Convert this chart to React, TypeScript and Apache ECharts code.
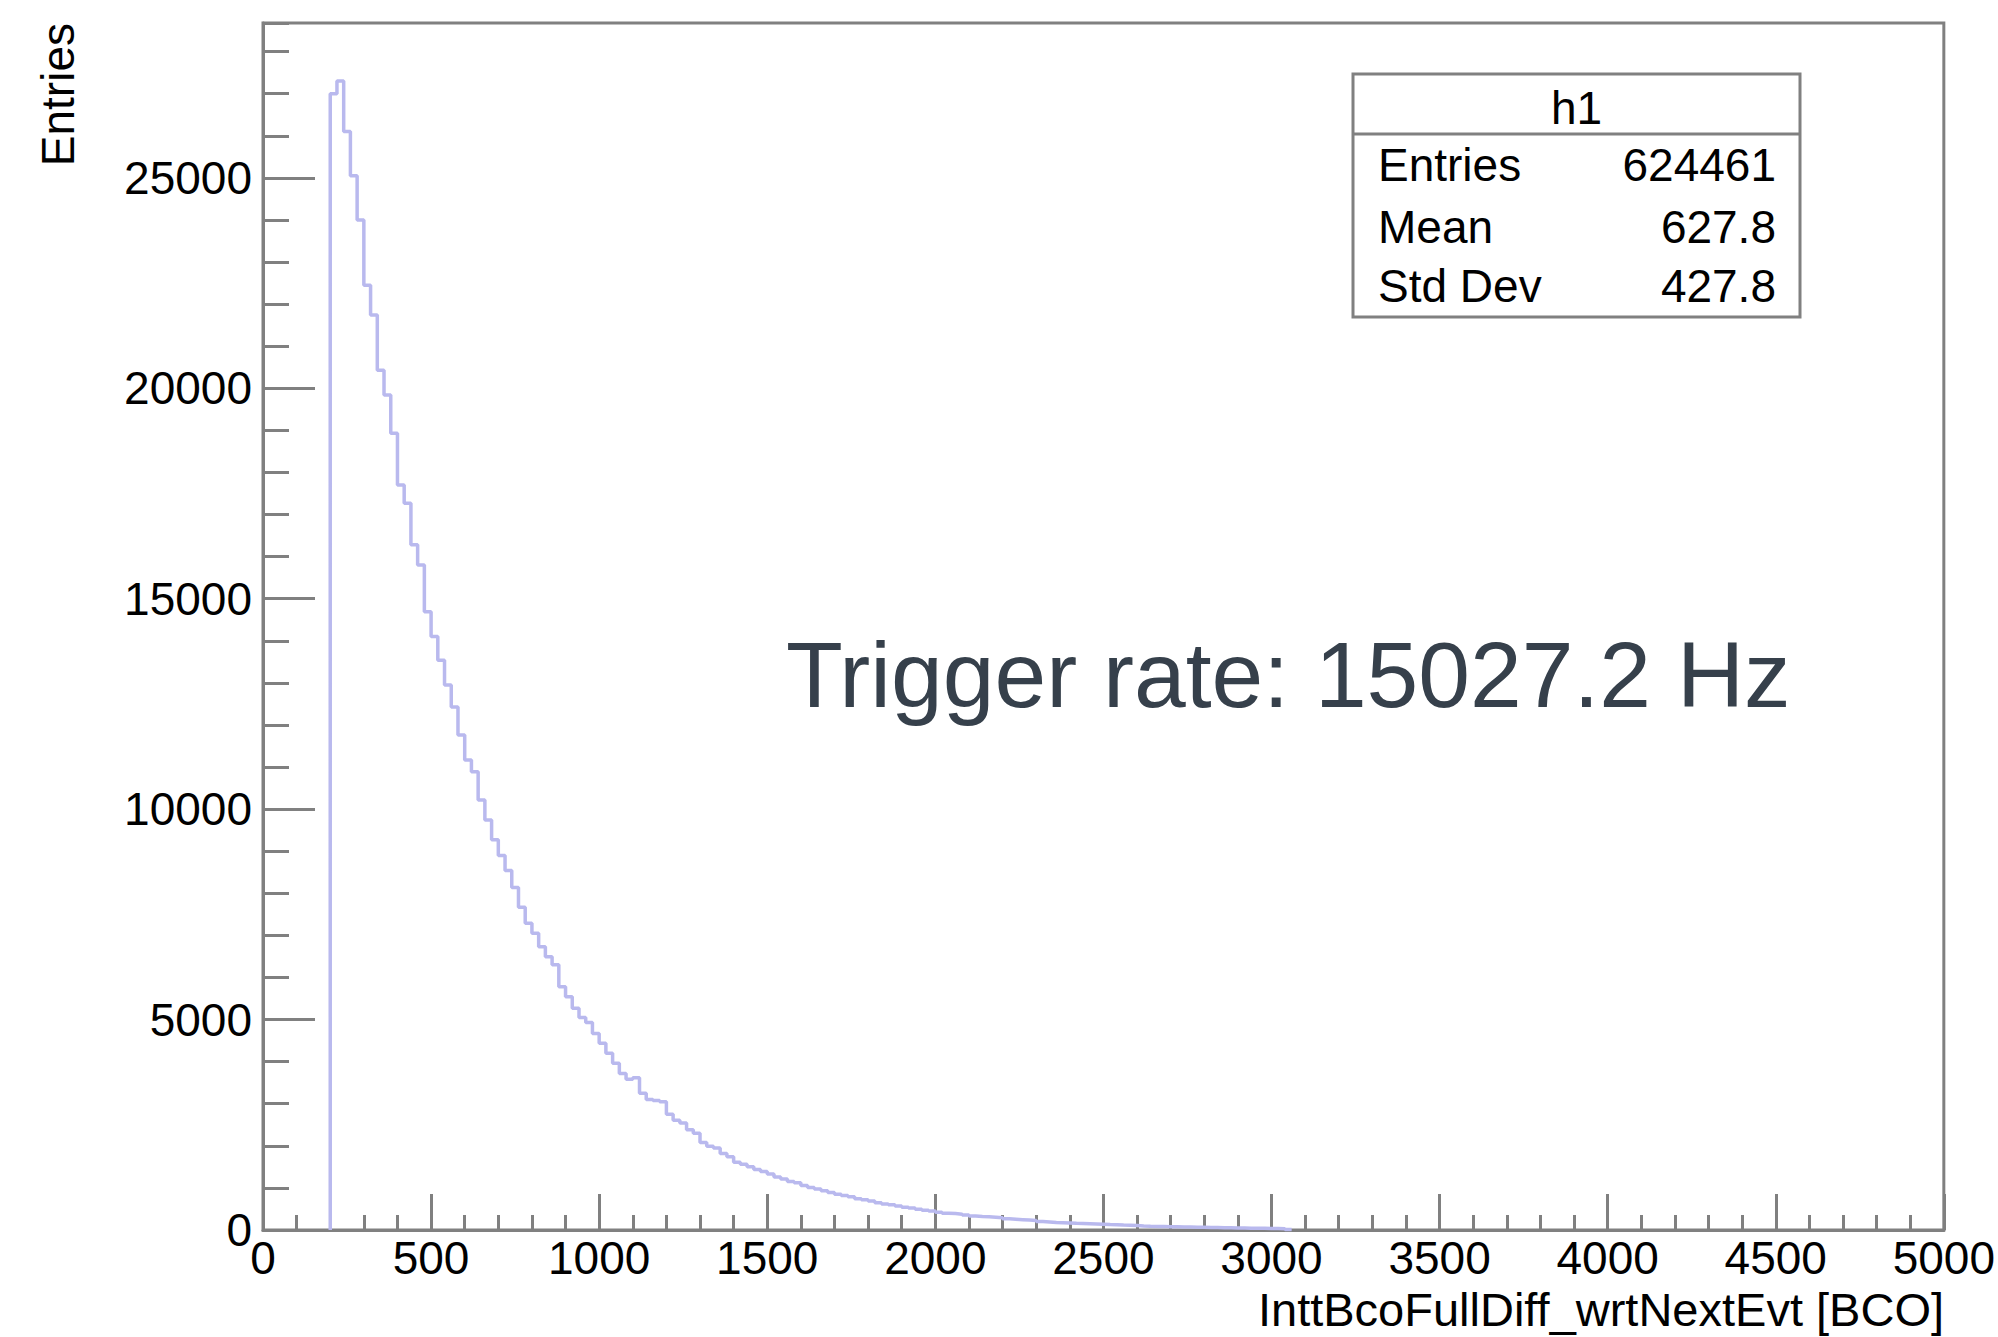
import React, { useEffect, useRef } from "react";
import * as echarts from "echarts";

// Histogram binning (BCO units)
const binStart = 200;
const binWidth = 20;
// Bin contents, bins [200,220), [220,240), ...
const counts = [
  27000, 27300, 26100, 25050, 24000, 22450, 21740, 20430, 19840, 18930,
  17700, 17270, 16280, 15800, 14690, 14100, 13540, 12950, 12430, 11760,
  11170, 10890, 10220, 9740, 9270, 8900, 8540, 8140, 7670, 7290,
  7050, 6730, 6490, 6300, 5780, 5540, 5270, 5050, 4930, 4670,
  4440, 4200, 3960, 3720, 3580, 3620, 3250, 3100, 3080, 3050,
  2750, 2610, 2540, 2380, 2300, 2080, 1990, 1950, 1820, 1740,
  1610, 1560, 1500, 1440, 1390, 1330, 1260, 1210, 1150, 1120,
  1060, 1010, 975, 930, 890, 850, 820, 790, 745, 720,
  690, 650, 620, 600, 570, 540, 520, 495, 470, 450,
  420, 400, 390, 375, 355, 330, 320, 315, 305, 290,
  265, 255, 245, 235, 225, 200, 190, 180, 175, 168,
  160, 155, 150, 145, 138, 130, 125, 118, 112, 105,
  95, 90, 86, 82, 78, 75, 72, 70, 66, 63,
  60, 57, 54, 51, 48, 46, 44, 42, 40, 38,
  36, 30, 12,
];

// Axis ranges / ticks
const xMin = 0;
const xMax = 5000;
const xMajor = 500;
const yMin = 0;
const yMax = 28680;
const yMajor = 5000;
const yMinor = 1000;

// Texts
const xTitle = "InttBcoFullDiff_wrtNextEvt [BCO]";
const yTitle = "Entries";
const statsTitle = "h1";
const statsNames = ["Entries", "Mean", "Std Dev"];
const statsValues = ["624461", "627.8", "427.8"];
const annotation = "Trigger rate: 15027.2 Hz";

const FONT = "'Liberation Sans', Arial, Helvetica, sans-serif";
const AXIS_GRAY = "#808080";

export default function App() {
  const ref = useRef<HTMLDivElement>(null);

  useEffect(() => {
    document.body.style.margin = "0";
    if (!ref.current) return;
    const chart = echarts.init(ref.current, null, { renderer: "svg" });

    const lastEdge = binStart + binWidth * counts.length;
    const histData: [number, number][] = [[binStart, 0]];
    counts.forEach((c, i) => histData.push([binStart + binWidth * (i + 1), c]));
    histData.push([lastEdge, 0]);

    const gridL = 263, gridR = 54, gridT = 23, gridB = 107;

    const statsX = 1353, statsY = 74, statsW = 447, statsH = 243;
    const rowYs = [165, 227, 286];

    const graphics: any[] = [
      {
        type: "text",
        x: 58,
        y: 23,
        rotation: Math.PI / 2,
        style: {
          text: yTitle,
          font: `46px ${FONT}`,
          fill: "#000",
          align: "right",
          verticalAlign: "middle",
        },
      },
      {
        type: "text",
        x: 1944,
        y: 1309,
        style: {
          text: xTitle,
          font: `47px ${FONT}`,
          lineHeight: 42,
          fill: "#000",
          align: "right",
          verticalAlign: "middle",
        },
      },
      {
        type: "rect",
        shape: { x: statsX, y: statsY, width: statsW, height: statsH },
        style: { fill: "#fff", stroke: AXIS_GRAY, lineWidth: 3 },
        z: 10,
      },
      {
        type: "line",
        shape: { x1: statsX, y1: 134, x2: statsX + statsW, y2: 134 },
        style: { stroke: AXIS_GRAY, lineWidth: 3 },
        z: 11,
      },
      {
        type: "text",
        x: statsX + statsW / 2,
        y: 108,
        z: 11,
        style: {
          text: statsTitle,
          font: `46px ${FONT}`,
          fill: "#000",
          align: "center",
          verticalAlign: "middle",
        },
      },
      ...statsNames.map((n, i) => ({
        type: "text",
        x: 1378,
        y: rowYs[i],
        z: 11,
        style: {
          text: n,
          font: `46px ${FONT}`,
          fill: "#000",
          align: "left",
          verticalAlign: "middle",
        },
      })),
      ...statsValues.map((v, i) => ({
        type: "text",
        x: 1776,
        y: rowYs[i],
        z: 11,
        style: {
          text: v,
          font: `46px ${FONT}`,
          fill: "#000",
          align: "right",
          verticalAlign: "middle",
        },
      })),
      {
        type: "text",
        x: 786,
        y: 675,
        style: {
          text: annotation,
          font: `93px ${FONT}`,
          fill: "#36404b",
          align: "left",
          verticalAlign: "middle",
        },
      },
    ];

    chart.setOption({
      animation: false,
      backgroundColor: "#fff",
      grid: {
        left: gridL,
        right: gridR,
        top: gridT,
        bottom: gridB,
        show: true,
        borderColor: AXIS_GRAY,
        borderWidth: 3,
        backgroundColor: "transparent",
      },
      xAxis: {
        type: "value",
        min: xMin,
        max: xMax,
        interval: xMajor,
        axisLine: { show: true, onZero: false, lineStyle: { color: AXIS_GRAY, width: 3 } },
        axisTick: { show: true, inside: true, length: 36, lineStyle: { color: AXIS_GRAY, width: 3 } },
        minorTick: { show: true, splitNumber: 5, length: 15, lineStyle: { color: AXIS_GRAY, width: 3 } },
        splitLine: { show: false },
        minorSplitLine: { show: false },
        axisLabel: {
          show: true,
          margin: 8,
          fontSize: 46,
          lineHeight: 40,
          fontFamily: FONT,
          color: "#000",
          formatter: (v: number) => String(v),
        },
      },
      yAxis: [
        {
          type: "value",
          min: yMin,
          max: yMax,
          interval: yMajor,
          position: "left",
          axisLine: { show: true, onZero: false, lineStyle: { color: AXIS_GRAY, width: 3 } },
          axisTick: { show: true, inside: true, length: 52, lineStyle: { color: AXIS_GRAY, width: 3 } },
          splitLine: { show: false },
          axisLabel: {
            show: true,
            margin: 11,
            fontSize: 46,
            fontFamily: FONT,
            color: "#000",
            showMaxLabel: false,
            formatter: (v: number) => (v % yMajor === 0 ? String(v) : ""),
          },
        },
        {
          type: "value",
          min: yMin,
          max: yMax,
          interval: yMinor,
          position: "left",
          axisLine: { show: false },
          axisTick: { show: true, inside: true, length: 26, lineStyle: { color: AXIS_GRAY, width: 3 } },
          splitLine: { show: false },
          axisLabel: { show: false },
        },
      ],
      series: [
        {
          type: "line",
          xAxisIndex: 0,
          yAxisIndex: 0,
          step: "start",
          showSymbol: false,
          symbol: "none",
          data: histData,
          lineStyle: { color: "#b9b9ee", width: 3.5 },
          z: 1,
          silent: true,
        },
      ],
      graphic: graphics,
    });

    return () => {
      chart.dispose();
    };
  }, []);

  return <div ref={ref} style={{ width: 1998, height: 1337 }} />;
}
